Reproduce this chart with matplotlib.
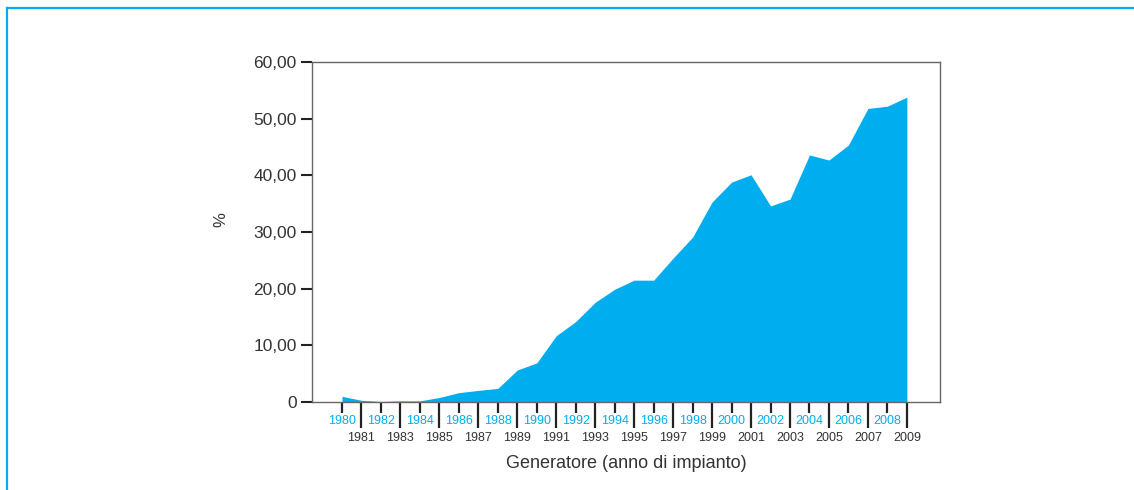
import numpy as np
import matplotlib.pyplot as plt
from matplotlib.lines import Line2D

years = list(range(1980, 2010))
share = [1.0, 0.3, 0.1, 0.2, 0.2, 0.8, 1.65, 2.05, 2.4, 5.65,
         6.9, 11.7, 14.2, 17.6, 19.9, 21.5, 21.5, 25.4, 29.1, 35.3,
         38.8, 40.1, 34.6, 35.8, 43.6, 42.7, 45.35, 51.8, 52.2, 53.8]
y_ticks = [0, 10, 20, 30, 40, 50, 60]
y_labels = ["0", "10,00", "20,00", "30,00", "40,00", "50,00", "60,00"]

plt.rcParams['font.family'] = ['Liberation Sans', 'DejaVu Sans']
blue = "#00aeef"
text_col = "#333333"

fig = plt.figure(figsize=(11.34, 4.9), dpi=100)
ax = fig.add_axes([312 / 1134, 88 / 490, 628 / 1134, 340 / 490])

ax.fill_between(years, share, 0, color=blue, linewidth=0)

ax.set_xlim(1978.46, 2010.7)
ax.set_ylim(0, 60)

ax.set_yticks(y_ticks)
ax.set_yticklabels(y_labels)
ax.tick_params(axis='y', length=8, width=1.5, pad=3, labelsize=12.5, labelcolor=text_col, color="#222222")

even = [y for y in years if y % 2 == 0]
odd = [y for y in years if y % 2 == 1]
ax.set_xticks(even)
ax.set_xticklabels([str(y) for y in even])
ax.set_xticks(odd, minor=True)
ax.set_xticklabels([str(y) for y in odd], minor=True)
ax.tick_params(axis='x', which='major', length=8, width=1.6, pad=1, labelsize=9,
               labelcolor=blue, color="#222222")
ax.tick_params(axis='x', which='minor', length=19, width=1.6, pad=2.5, labelsize=9,
               labelcolor=text_col, color="#222222")

for s in ax.spines.values():
    s.set_color("#666666")
    s.set_linewidth(1.0)

ax.set_xlabel("Generatore (anno di impianto)", fontsize=13, color=text_col, labelpad=8)
fig.text(221 / 1134, 1 - 220 / 490, "%", rotation=90, ha='center', va='center',
         fontsize=12, color=text_col)

# outer blue frame (top and left edges)
fig.add_artist(Line2D([7 / 1134, 7 / 1134], [0, 1 - 8 / 490], transform=fig.transFigure,
                      color=blue, linewidth=1.6))
fig.add_artist(Line2D([7 / 1134, 1], [1 - 8 / 490, 1 - 8 / 490], transform=fig.transFigure,
                      color=blue, linewidth=1.6))

fig.savefig("out.png", dpi=100)
